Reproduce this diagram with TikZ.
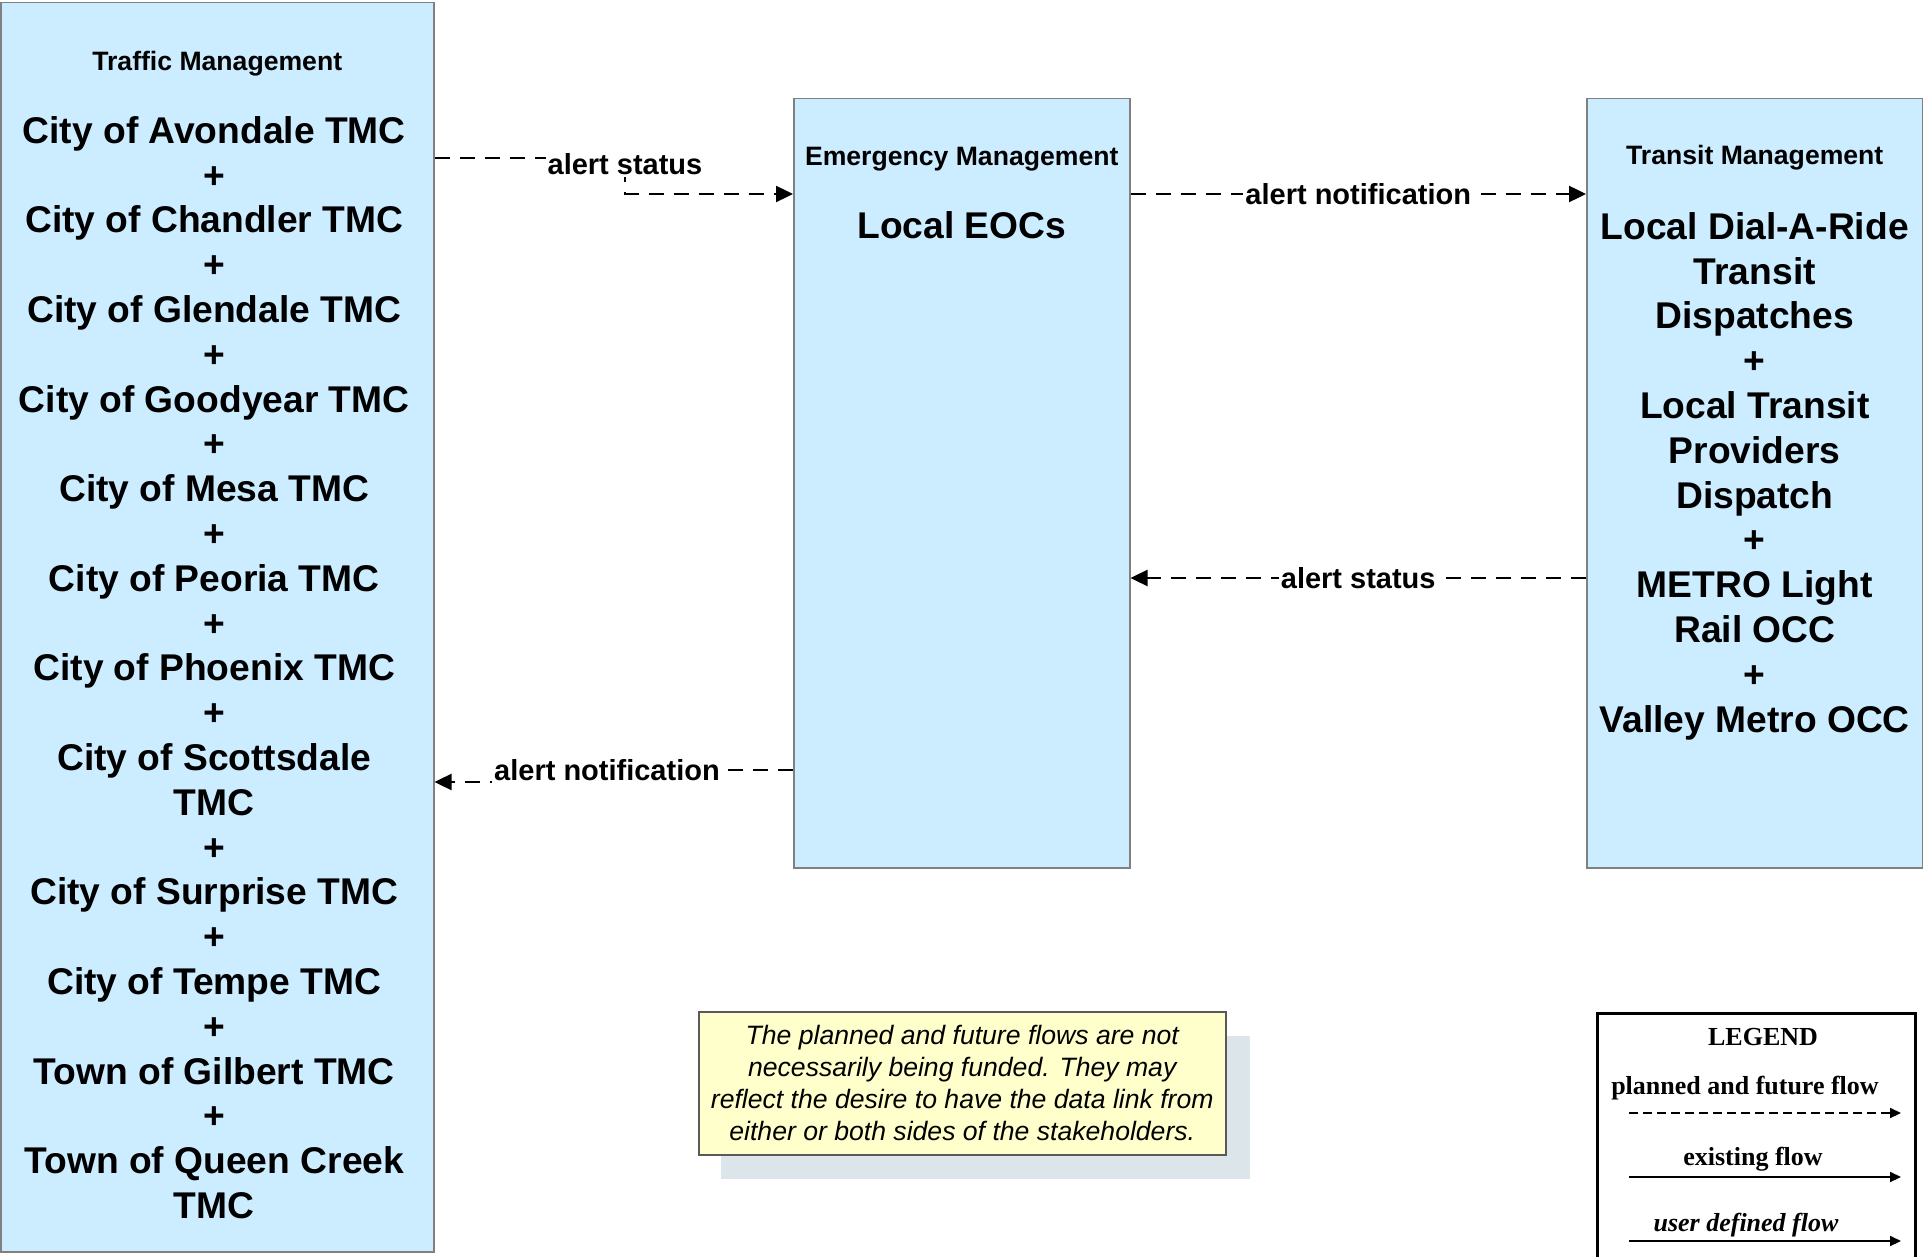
\documentclass[tikz,border=0pt]{standalone}
\usepackage{fontspec}
\setmainfont{Liberation Sans}
\newfontfamily\legfont{Liberation Serif}
\usetikzlibrary{arrows.meta, positioning, calc}
\definecolor{boxblue}{HTML}{CCECFF}
\definecolor{boxgray}{HTML}{808080}
\definecolor{noteyellow}{HTML}{FFFFCC}
\definecolor{shadowgray}{HTML}{DCE6EA}

\begin{document}
\begin{tikzpicture}[x=0.5pt, y=-0.5pt,
  sysbox/.style={rectangle, draw=boxgray, line width=0.75pt, fill=boxblue,
    anchor=north west, inner sep=0pt},
  hdr/.style={font=\bfseries\fontsize{13.3}{16}\selectfont, inner sep=0pt},
  body/.style={font=\bfseries\fontsize{18.6}{22.4}\selectfont, align=center, inner sep=0pt},
  flow/.style={-{Triangle[length=8.5pt, width=8pt]}, line width=1.2pt,
    dash pattern=on 7.5pt off 5pt},
  lbl/.style={font=\bfseries\fontsize{14.5}{17}\selectfont, fill=white, inner sep=1pt},
  notebox/.style={rectangle, draw=black!65, line width=0.75pt, fill=noteyellow,
    anchor=north west, align=center, font=\itshape\fontsize{13.3}{16}\selectfont},
  legtxt/.style={font=\legfont\bfseries\fontsize{13}{15}\selectfont, inner sep=0pt},
  legarrow/.style={-{Triangle[length=5.5pt, width=5pt]}, line width=1pt}
]
  \useasboundingbox (0,0) rectangle (1923,1257);

  % stakeholder boxes
  \node[sysbox, minimum width=216.5pt, minimum height=624.5pt] (trf) at (0,2) {};
  \node[sysbox, minimum width=168pt, minimum height=384.5pt] (emg) at (793,98) {};
  \node[sysbox, minimum width=168pt, minimum height=384.5pt] (trn) at (1586,98) {};

  \node[hdr] (trfhdr) at ($(trf.north)+(0,62)$) {Traffic Management};
  \node[hdr] (emghdr) at ($(emg.north)+(0,61)$) {Emergency Management};
  \node[hdr] (trnhdr) at ($(trn.north)+(0,60)$) {Transit Management};

  \node[body, below=19.5pt of trfhdr, xshift=-1.5pt] (trfbody) {City of Avondale TMC\\ +\\ City of Chandler TMC\\ +\\
    City of Glendale TMC\\ +\\ City of Goodyear TMC\\ +\\ City of Mesa TMC\\ +\\
    City of Peoria TMC\\ +\\ City of Phoenix TMC\\ +\\ City of Scottsdale\\ TMC\\ +\\
    City of Surprise TMC\\ +\\ City of Tempe TMC\\ +\\ Town of Gilbert TMC\\ +\\
    Town of Queen Creek\\ TMC};
  \node[body, below=20pt of emghdr] (emgbody) {Local EOCs};
  \node[body, below=20.5pt of trnhdr] (trnbody) {Local Dial-A-Ride\\ Transit\\ Dispatches\\ +\\
    Local Transit\\ Providers\\ Dispatch\\ +\\ METRO Light\\ Rail OCC\\ +\\ Valley Metro OCC};

  % flow heights and bends
  \coordinate (yas) at (0,158);
  \coordinate (yan) at (0,194);
  \coordinate (yst) at (0,578);
  \coordinate (ynb) at (0,770);
  \coordinate (ynl) at (0,782);
  \coordinate (bas) at (625,0);
  \coordinate (bnt) at (607,0);

  \draw[flow] (trf.east |- yas) -| node[lbl, yshift=-3pt] {alert status} (bas |- yan) -- (emg.west |- yan);
  \draw[flow] (emg.east |- yan) -- node[lbl] {alert notification} (trn.west |- yan);
  \draw[flow] (trn.west |- yst) -- node[lbl] {alert status} (emg.east |- yst);
  \draw[flow] (emg.west |- ynb) -| node[lbl] {alert notification} (bnt |- ynl) -- (trf.east |- ynl);

  % note
  \node[rectangle, fill=shadowgray, anchor=north west, minimum width=264.5pt,
    minimum height=71.5pt] (noteshd) at (721,1036) {};
  \node[notebox, minimum width=263.5pt, minimum height=71.5pt] (note) at (698,1011)
    {The planned and future flows are not\\ necessarily being funded. They may\\
     reflect the desire to have the data link from\\ either or both sides of the stakeholders.};

  % legend
  \draw[line width=1.5pt] (1597,1257) |- (1915,1013) -- (1915,1257);
  \node[legtxt] (legttl) at (1763,1037) {LEGEND};
  \node[legtxt] (legplan) at (1745,1088) {planned and future flow};
  \node[legtxt] (legexist) at (1753,1159) {existing flow};
  \node[legtxt, font=\legfont\bfseries\itshape\fontsize{13}{15}\selectfont] (leguser) at (1746,1225) {user defined flow};
  \coordinate (lgl) at (1629,0);
  \coordinate (lgr) at (1901,0);
  \coordinate (ylp) at (0,1113);
  \coordinate (yle) at (0,1177);
  \coordinate (ylu) at (0,1241);
  \draw[legarrow, dash pattern=on 4.5pt off 2.5pt] (lgl |- ylp) -- (lgr |- ylp);
  \draw[legarrow] (lgl |- yle) -- (lgr |- yle);
  \draw[legarrow] (lgl |- ylu) -- (lgr |- ylu);
\end{tikzpicture}
\end{document}
